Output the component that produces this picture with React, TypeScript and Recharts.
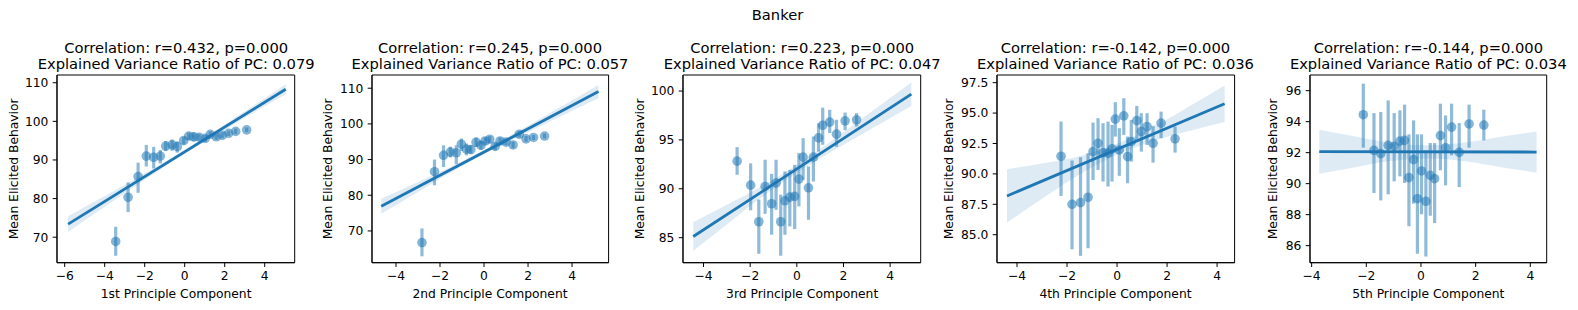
import React from 'react';
import { ComposedChart, XAxis, YAxis, Scatter, ErrorBar, Line, Area, ReferenceArea } from 'recharts';

const FONT = '"DejaVu Sans", sans-serif';
const BLUE = '#1f77b4';

const suptitle = 'Banker';
const yLabel = 'Mean Elicited Behavior';
const xLabels = ['1st Principle Component', '2nd Principle Component', '3rd Principle Component', '4th Principle Component', '5th Principle Component'];
const corrTitles = ['Correlation: r=0.432, p=0.000', 'Correlation: r=0.245, p=0.000', 'Correlation: r=0.223, p=0.000', 'Correlation: r=-0.142, p=0.000', 'Correlation: r=-0.144, p=0.000'];
const varTitles = ['Explained Variance Ratio of PC: 0.079', 'Explained Variance Ratio of PC: 0.057', 'Explained Variance Ratio of PC: 0.047', 'Explained Variance Ratio of PC: 0.036', 'Explained Variance Ratio of PC: 0.034'];

// ---- Panel 1 ----
const pc1X = [-3.45, -2.83, -2.33, -1.92, -1.55, -1.22, -0.95, -0.63, -0.37, -0.05, 0.2, 0.45, 0.72, 1.03, 1.28, 1.58, 1.88, 2.2, 2.55, 3.1];
const pc1Y = [68.9, 80.35, 85.7, 91.0, 90.7, 91.0, 93.6, 93.9, 93.45, 95.0, 96.2, 96.0, 95.9, 95.6, 96.65, 96.0, 96.4, 96.9, 97.4, 97.8];
const pc1Lo = [65.2, 76.5, 81.5, 88.3, 87.8, 89.1, 92.3, 92.4, 91.9, 94.0, 95.2, 94.8, 95.0, 94.7, 95.9, 95.2, 95.6, 96.2, 96.7, 97.2];
const pc1Hi = [72.7, 84.2, 89.3, 93.9, 93.4, 92.6, 94.9, 95.3, 94.8, 96.0, 97.1, 97.1, 96.8, 96.5, 97.4, 96.8, 97.2, 97.6, 98.1, 98.4];
const pc1LineX = [-5.83, 5.05];
const pc1LineY = [73.4, 108.3];
const pc1BandX = [-5.83, -4, -2, 0, 2, 4, 5.05];
const pc1BandLo = [71.35, 77.9, 84.9, 91.6, 97.8, 103.9, 107.0];
const pc1BandHi = [75.45, 80.65, 86.5, 92.6, 99.2, 106.0, 109.6];
const pc1XTicks = [-6, -4, -2, 0, 2, 4];
const pc1YTicks = [70, 80, 90, 100, 110];

// ---- Panel 2 ----
const pc2X = [-2.82, -2.25, -1.84, -1.53, -1.26, -1.03, -0.8, -0.6, -0.36, -0.14, 0.05, 0.26, 0.51, 0.73, 1.0, 1.32, 1.6, 1.91, 2.25, 2.75];
const pc2Y = [66.75, 86.6, 91.2, 92.1, 91.9, 94.3, 92.9, 92.8, 94.85, 94.0, 95.2, 95.7, 93.7, 95.2, 94.9, 94.1, 97.1, 95.8, 96.2, 96.6];
const pc2Lo = [62.9, 82.8, 87.9, 90.6, 88.7, 92.4, 91.2, 91.6, 93.5, 92.8, 94.2, 94.7, 92.6, 94.2, 94.0, 93.2, 96.2, 95.0, 95.5, 95.9];
const pc2Hi = [70.7, 90.0, 94.0, 93.6, 94.0, 95.9, 94.5, 94.0, 96.2, 95.2, 96.2, 96.6, 94.8, 96.2, 95.8, 95.0, 98.0, 96.6, 96.9, 97.3];
const pc2LineX = [-4.67, 5.2];
const pc2LineY = [76.9, 109.05];
const pc2BandX = [-4.67, -3, -1.5, 0, 1.5, 3, 5.2];
const pc2BandLo = [74.8, 80.94, 86.42, 91.56, 96.2, 100.68, 107.2];
const pc2BandHi = [79.0, 83.74, 88.02, 92.66, 97.8, 103.08, 110.9];
const pc2XTicks = [-4, -2, 0, 2, 4];
const pc2YTicks = [70, 80, 90, 100, 110];

// ---- Panel 3 ----
const pc3X = [-2.56, -1.98, -1.63, -1.36, -1.08, -0.89, -0.69, -0.51, -0.3, -0.09, 0.09, 0.27, 0.5, 0.71, 0.93, 1.11, 1.41, 1.7, 2.07, 2.56];
const pc3Y = [92.83, 90.37, 86.63, 90.24, 88.47, 90.58, 86.63, 88.77, 89.15, 89.22, 90.99, 93.24, 90.1, 93.24, 95.21, 96.5, 96.82, 95.59, 96.95, 97.06];
const pc3Lo = [91.43, 87.8, 83.35, 87.44, 85.3, 87.85, 83.15, 85.3, 86.15, 85.88, 88.2, 90.92, 86.83, 90.75, 93.8, 94.5, 95.7, 94.3, 96.0, 96.37];
const pc3Hi = [94.26, 92.6, 88.9, 92.97, 91.53, 92.97, 89.4, 91.77, 91.94, 92.45, 93.65, 95.18, 92.28, 95.35, 96.7, 98.3, 98.08, 97.06, 97.8, 97.74];
const pc3LineX = [-4.44, 4.91];
const pc3LineY = [85.12, 99.68];
const pc3BandX = [-4.44, -3, -1.5, 0, 1.5, 3, 4.91];
const pc3BandLo = [83.67, 86.36, 89.15, 91.63, 93.82, 95.86, 98.48];
const pc3BandHi = [86.57, 88.36, 90.25, 92.43, 94.92, 97.56, 100.88];
const pc3XTicks = [-4, -2, 0, 2, 4];
const pc3YTicks = [85, 90, 95, 100];

// ---- Panel 4 ----
const pc4X = [-2.24, -1.8, -1.46, -1.16, -0.96, -0.76, -0.56, -0.36, -0.2, -0.07, 0.09, 0.27, 0.42, 0.57, 0.79, 0.97, 1.2, 1.44, 1.76, 2.32];
const pc4Y = [91.45, 87.5, 87.64, 88.08, 91.83, 92.52, 91.75, 91.7, 92.06, 94.5, 91.97, 94.77, 91.42, 92.66, 94.38, 93.48, 93.89, 92.52, 94.17, 92.88];
const pc4Lo = [88.19, 83.8, 83.26, 83.89, 89.5, 90.33, 89.37, 88.96, 89.37, 93.07, 89.84, 93.21, 89.23, 91.01, 92.66, 91.83, 92.38, 90.93, 92.94, 91.75];
const pc4Hi = [94.3, 91.1, 91.37, 91.7, 94.22, 94.58, 94.17, 94.3, 94.03, 95.9, 93.76, 96.22, 93.07, 94.44, 95.59, 94.99, 94.99, 93.95, 95.12, 93.89];
const pc4LineX = [-4.4, 4.3];
const pc4LineY = [88.19, 95.76];
const pc4BandX = [-4.4, -3, -1.5, 0, 1.5, 3, 4.3];
const pc4BandLo = [85.99, 87.96, 89.96, 91.57, 92.73, 93.58, 94.26];
const pc4BandHi = [90.39, 90.86, 91.46, 92.47, 93.93, 95.68, 97.26];
const pc4XTicks = [-4, -2, 0, 2, 4];
const pc4YTicks = [85, 87.5, 90, 92.5, 95, 97.5];

// ---- Panel 5 ----
const pc5X = [-2.11, -1.72, -1.47, -1.2, -0.98, -0.77, -0.6, -0.44, -0.27, -0.13, 0.02, 0.18, 0.34, 0.5, 0.71, 0.9, 1.12, 1.4, 1.76, 2.3];
const pc5Y = [94.45, 92.15, 91.94, 92.47, 92.41, 92.75, 92.79, 90.39, 91.55, 89.03, 90.82, 88.86, 90.54, 90.32, 93.1, 92.32, 93.65, 92.02, 93.85, 93.78];
const pc5Lo = [92.32, 89.4, 88.92, 89.31, 90.15, 90.47, 90.04, 87.25, 88.71, 85.48, 88.02, 85.3, 87.93, 87.46, 90.86, 89.89, 91.83, 89.78, 92.32, 92.79];
const pc5Hi = [96.45, 94.55, 94.62, 95.37, 94.55, 94.73, 95.1, 93.18, 94.08, 93.18, 93.18, 92.15, 92.62, 92.62, 95.16, 94.4, 95.16, 93.91, 95.1, 94.77];
const pc5LineX = [-3.72, 4.23];
const pc5LineY = [92.06, 92.04];
const pc5BandX = [-3.72, -2.5, -1.2, 0.3, 1.6, 3, 4.23];
const pc5BandLo = [90.64, 91.03, 91.44, 91.63, 91.45, 91.05, 90.71];
const pc5BandHi = [93.48, 93.07, 92.66, 92.47, 92.65, 93.05, 93.37];
const pc5XTicks = [-4, -2, 0, 2, 4];
const pc5YTicks = [86, 88, 90, 92, 94, 96];

const PLOT_TOP = 75;
const PLOT_BOTTOM = 262.7;
const H = 310;

const panels = [
  { xs: pc1X, ys: pc1Y, lo: pc1Lo, hi: pc1Hi, lineX: pc1LineX, lineY: pc1LineY, bandX: pc1BandX, bandLo: pc1BandLo, bandHi: pc1BandHi, xTicks: pc1XTicks, yTicks: pc1YTicks, xDomain: [-6.385, 5.5], yDomain: [63.4, 112], plotLeft: 57.3, plotRight: 295, ylabOff: 38.8, dec: 0 },
  { xs: pc2X, ys: pc2Y, lo: pc2Lo, hi: pc2Hi, lineX: pc2LineX, lineY: pc2LineY, bandX: pc2BandX, bandLo: pc2BandLo, bandHi: pc2BandHi, xTicks: pc2XTicks, yTicks: pc2YTicks, xDomain: [-5.09, 5.66], yDomain: [61.1, 113.7], plotLeft: 371.7, plotRight: 608.3, ylabOff: 39.2, dec: 0 },
  { xs: pc3X, ys: pc3Y, lo: pc3Lo, hi: pc3Hi, lineX: pc3LineX, lineY: pc3LineY, bandX: pc3BandX, bandLo: pc3BandLo, bandHi: pc3BandHi, xTicks: pc3XTicks, yTicks: pc3YTicks, xDomain: [-4.88, 5.31], yDomain: [82.44, 101.64], plotLeft: 683.3, plotRight: 921, ylabOff: 38.8, dec: 0 },
  { xs: pc4X, ys: pc4Y, lo: pc4Lo, hi: pc4Hi, lineX: pc4LineX, lineY: pc4LineY, bandX: pc4BandX, bandLo: pc4BandLo, bandHi: pc4BandHi, xTicks: pc4XTicks, yTicks: pc4YTicks, xDomain: [-4.8, 4.7], yDomain: [82.7, 98.13], plotLeft: 996.7, plotRight: 1234.3, ylabOff: 43.2, dec: 1 },
  { xs: pc5X, ys: pc5Y, lo: pc5Lo, hi: pc5Hi, lineX: pc5LineX, lineY: pc5LineY, bandX: pc5BandX, bandLo: pc5BandLo, bandHi: pc5BandHi, xTicks: pc5XTicks, yTicks: pc5YTicks, xDomain: [-4.06, 4.6], yDomain: [84.9, 97.01], plotLeft: 1310, plotRight: 1546.7, ylabOff: 32.5, dec: 0 },
];

const fmt = (dec: number) => (v: number) => {
  const s = Math.abs(v).toFixed(dec);
  return v < 0 ? '\u2212' + s : s;
};

const tickStyle = { fontSize: 12.3, fill: '#000', fontFamily: FONT };

const Dot = (props: any) => {
  const { cx, cy } = props;
  if (cx == null || cy == null) return null;
  return <circle cx={cx} cy={cy} r={4.8} fill={BLUE} fillOpacity={0.55} />;
};

function Panel({ p }: { p: any }) {
  const yW = 60;
  const rightM = 10;
  const w = p.plotRight - p.plotLeft + yW + rightM;
  const scatterData = p.xs.map((x: number, i: number) => ({ x, y: p.ys[i], err: [p.ys[i] - p.lo[i], p.hi[i] - p.ys[i]] }));
  const lineData = p.lineX.map((x: number, i: number) => ({ x, y: p.lineY[i] }));
  const bandData = p.bandX.map((x: number, i: number) => ({ x, band: [p.bandLo[i], p.bandHi[i]] }));
  return (
    <div style={{ position: 'absolute', left: p.plotLeft - yW, top: 0 }}>
      <ComposedChart width={w} height={H} margin={{ top: PLOT_TOP, right: rightM, bottom: 0, left: 0 }}>
        <XAxis
          type="number"
          dataKey="x"
          domain={p.xDomain}
          ticks={p.xTicks}
          interval={0}
          allowDataOverflow
          height={H - PLOT_BOTTOM}
          tickSize={4.3}
          tickMargin={4.5}
          tick={tickStyle}
          tickFormatter={fmt(0)}
          stroke="#000"
          axisLine={{ stroke: '#000', strokeWidth: 1 }}
          tickLine={{ stroke: '#000', strokeWidth: 1 }}
        />
        <YAxis
          type="number"
          dataKey="y"
          domain={p.yDomain}
          ticks={p.yTicks}
          interval={0}
          allowDataOverflow
          width={yW}
          tickSize={4.3}
          tickMargin={4.3}
          tick={tickStyle}
          tickFormatter={fmt(p.dec)}
          stroke="#000"
          axisLine={{ stroke: '#000', strokeWidth: 1 }}
          tickLine={{ stroke: '#000', strokeWidth: 1 }}
        />
        <Scatter data={scatterData} shape={Dot} isAnimationActive={false}>
          <ErrorBar dataKey="err" direction="y" width={0} strokeWidth={3.2} stroke="rgba(31,119,180,0.5)" isAnimationActive={false} />
        </Scatter>
        <Area data={bandData} dataKey="band" type="monotone" stroke="none" fill={BLUE} fillOpacity={0.15} isAnimationActive={false} dot={false} activeDot={false} />
        <Line data={lineData} dataKey="y" type="linear" stroke={BLUE} strokeWidth={2.8} dot={false} activeDot={false} isAnimationActive={false} />
        <ReferenceArea x1={p.xDomain[0]} x2={p.xDomain[1]} y1={p.yDomain[0]} y2={p.yDomain[1]} fill="none" fillOpacity={0} stroke="#000" strokeWidth={1} />
      </ComposedChart>
    </div>
  );
}

export default function App() {
  const midY = (PLOT_TOP + PLOT_BOTTOM) / 2;
  return (
    <div style={{ position: 'absolute', left: 0, top: 0, width: 1578, height: H, background: '#fff', overflow: 'hidden' }}>
      {panels.map((p, i) => (
        <Panel key={i} p={p} />
      ))}
      <svg width={1578} height={H} style={{ position: 'absolute', left: 0, top: 0, pointerEvents: 'none' }}>
        <text x={777.5} y={20} textAnchor="middle" fontSize={14.7} fontFamily={FONT} fill="#000">{suptitle}</text>
        {panels.map((p, i) => {
          const cx = (p.plotLeft + p.plotRight) / 2;
          const lx = p.plotLeft - p.ylabOff;
          return (
            <g key={i}>
              <text x={cx} y={53.2} textAnchor="middle" fontSize={14.7} fontFamily={FONT} fill="#000">{corrTitles[i]}</text>
              <text x={cx} y={68.6} textAnchor="middle" fontSize={14.7} fontFamily={FONT} fill="#000">{varTitles[i]}</text>
              <text x={cx} y={298.2} textAnchor="middle" fontSize={12.3} fontFamily={FONT} fill="#000">{xLabels[i]}</text>
              <text x={lx} y={midY} textAnchor="middle" fontSize={12.3} fontFamily={FONT} fill="#000" transform={`rotate(-90 ${lx} ${midY})`}>{yLabel}</text>
            </g>
          );
        })}
      </svg>
    </div>
  );
}
